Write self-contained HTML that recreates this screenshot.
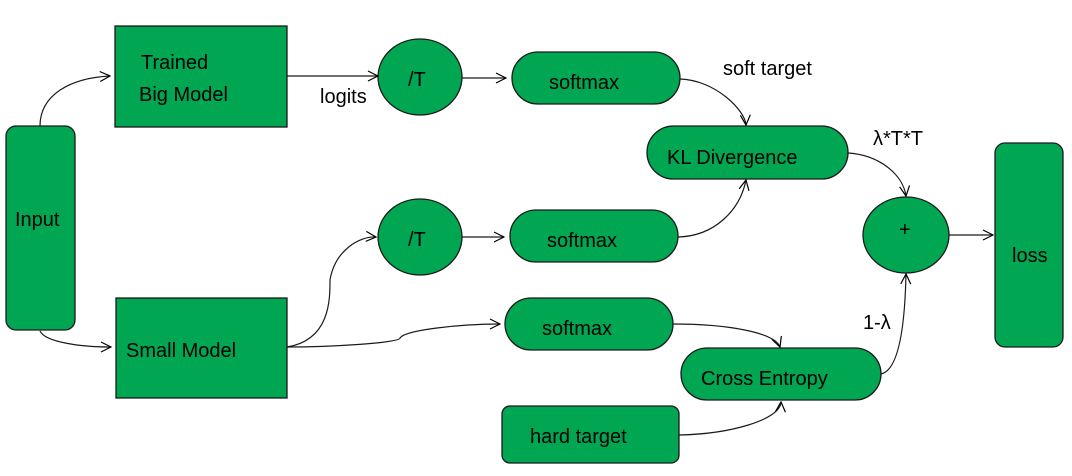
<!DOCTYPE html>
<html><head><meta charset="utf-8"><style>
html,body{margin:0;padding:0;background:#fff;}
svg{display:block}
text{font-family:"Liberation Sans",sans-serif;font-size:20px;fill:#000}
</style></head><body>
<svg width="1072" height="476" viewBox="0 0 1072 476" xmlns="http://www.w3.org/2000/svg">
<defs>
<marker id="a" viewBox="0 0 12 12" refX="11" refY="6" markerWidth="12" markerHeight="12" markerUnits="userSpaceOnUse" orient="auto">
<path d="M1,1 L11,6 L1,11" fill="none" stroke="#000" stroke-width="1.2"/>
</marker>
</defs>
<g fill="#00a651" stroke="#1a1a1a" stroke-width="1.3">
<rect x="6" y="126" width="69" height="204" rx="10"/>
<rect x="115" y="26" width="172" height="101"/>
<rect x="116" y="298" width="171" height="100"/>
<ellipse cx="420" cy="77" rx="42" ry="38"/>
<ellipse cx="420" cy="237" rx="42" ry="38"/>
<rect x="512" y="52" width="168" height="52" rx="26"/>
<rect x="510" y="210" width="168" height="52" rx="26"/>
<rect x="505" y="298" width="168" height="52" rx="26"/>
<rect x="647" y="126" width="201" height="53" rx="26.5"/>
<ellipse cx="906" cy="235" rx="43" ry="38"/>
<rect x="995" y="143" width="68" height="204" rx="10"/>
<rect x="681" y="348" width="200" height="52" rx="26"/>
<rect x="502" y="406" width="177" height="57" rx="8"/>
</g>
<g fill="none" stroke="#1a1a1a" stroke-width="1.2" marker-end="url(#a)">
<path d="M40,126 C40,95 70,78 110,76"/>
<path d="M40,331 C45,342 80,347 111,347"/>
<path d="M287,76 L378,76"/>
<path d="M462,78 L506,78"/>
<path d="M462,237 L504,237"/>
<path d="M287,347 C330,340 330,300 330,280 C335,250 360,236 376,237"/>
<path d="M287,347 C330,347 400,343 400,338 C405,330 460,324 500,324"/>
<path d="M680,79 C715,80 745,110 746,125"/>
<path d="M678,237 C715,236 740,210 746,180"/>
<path d="M848,153 C880,155 903,175 906,196"/>
<path d="M673,324 C730,324 775,333 780,347"/>
<path d="M679,435 C730,434 780,420 781,402"/>
<path d="M881,374 C900,370 905,320 906,274"/>
<path d="M949,235 L993,235"/>
</g>
<text x="141" y="69">Trained</text>
<text x="139" y="101">Big Model</text>
<text x="15" y="226">Input</text>
<text x="126" y="357">Small Model</text>
<text x="320" y="103">logits</text>
<text x="408" y="86">/T</text>
<text x="408" y="246">/T</text>
<text x="549" y="89">softmax</text>
<text x="547" y="247">softmax</text>
<text x="542" y="335">softmax</text>
<text x="723" y="75">soft target</text>
<text x="667" y="164">KL Divergence</text>
<text x="873" y="145">λ*T*T</text>
<text x="899" y="236">+</text>
<text x="1012" y="262">loss</text>
<text x="863" y="329">1-λ</text>
<text x="701" y="385">Cross Entropy</text>
<text x="530" y="443">hard target</text>
</svg>
</body></html>
